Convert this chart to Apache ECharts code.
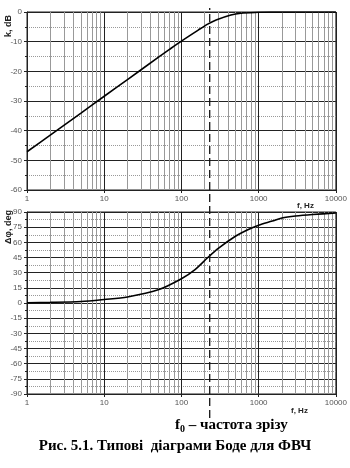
<!DOCTYPE html>
<html><head><meta charset="utf-8">
<script src="https://cdn.jsdelivr.net/npm/echarts@6/dist/echarts.min.js"></script>
<style>html,body{margin:0;padding:0;background:#fff}#c{width:350px;height:468px}</style>
</head><body><div id="c"></div>
<script>
// ---- data ----
const freqMag = [1, 2, 5, 10, 20, 50, 70, 100, 165, 222, 281, 437, 588, 1000, 1425, 2000, 5000, 10000];
const magDb   = [-47.1, -41.5, -34.1, -28.4, -22.8, -15.3, -12.6, -9.8, -6.1, -4.0, -2.7, -1.0, -0.4, -0.1, 0, 0, 0, 0];
const freqPh  = [1, 2, 5, 10, 20, 50, 100, 150, 220, 300, 500, 700, 1000, 1500, 2000, 3000, 5000, 10000];
const phaseDeg= [0.3, 0.6, 1.5, 3.5, 6, 13, 24, 33, 45, 54, 66, 72, 77, 81, 84, 86, 87.5, 89];
const f0 = 220;
const xTickLabels = ['1', '10', '100', '1000', '10000'];
const decades = [1, 10, 100, 1000];
const subMult = [2, 3, 4, 5, 6, 7, 8, 9];

const minorX = [];
decades.forEach(d => subMult.forEach(m => minorX.push({xAxis: d * m})));

const lblStyle = {color: '#555', fontSize: 8, fontFamily: 'Arial, Liberation Sans'};
function xAxisCfg(gi, show) {
  return {
    type: 'log', logBase: 10, min: 1, max: 10000, gridIndex: gi, show: show !== false,
    axisLine: {show: true, onZero: false, lineStyle: {color: '#222', width: 1}},
    axisTick: {show: true, inside: false, length: 3, lineStyle: {color: '#222'}},
    axisLabel: {show: true, margin: 5, ...lblStyle,
      formatter: v => { const s = String(Math.round(v)); return xTickLabels.includes(s) ? s : ''; }},
    splitLine: {show: true, lineStyle: {color: '#222', width: 1}},
    minorTick: {show: false}, minorSplitLine: {show: false}
  };
}
function yAxisCfg(gi, min, max, interval) {
  return {
    type: 'value', gridIndex: gi, min, max, interval,
    axisLine: {show: true, lineStyle: {color: '#222', width: 1}},
    axisTick: {show: true, length: 3, lineStyle: {color: '#222'}},
    axisLabel: {margin: 5, ...lblStyle},
    splitLine: {show: true, lineStyle: {color: '#222', width: 1}},
    minorTick: {show: true, splitNumber: 2, length: 2, lineStyle: {color: '#222'}},
    minorSplitLine: {show: true, lineStyle: {color: '#999', width: 1, type: [1, 1]}}
  };
}
const minorMark = {
  silent: true, symbol: 'none', label: {show: false},
  lineStyle: {color: '#999', width: 1, type: 'solid'},
  data: minorX, animation: false
};
const nameStyle = {fontSize: 9, fontWeight: 'bold', fill: '#222', fontFamily: 'Arial, Liberation Sans'};

const chart = echarts.init(document.getElementById('c'), null, {renderer: 'canvas'});
chart.setOption({
  animation: false,
  backgroundColor: '#fff',
  grid: [
    {left: 27, right: 11, top: 12, height: 178, show: true, borderColor: '#222', borderWidth: 1},
    {left: 27, right: 11, top: 212, height: 182, show: true, borderColor: '#222', borderWidth: 1},
    {left: 27, right: 11, top: 8, bottom: 50}
  ],
  xAxis: [xAxisCfg(0), xAxisCfg(1),
    {type: 'log', logBase: 10, min: 1, max: 10000, gridIndex: 2, show: false}],
  yAxis: [
    yAxisCfg(0, -60, 0, 10),
    yAxisCfg(1, -90, 90, 15),
    {type: 'value', gridIndex: 2, min: 0, max: 1, show: false}
  ],
  title: [
    {text: 'f, Hz', left: 297, top: 202, padding: 0, textStyle: {fontSize: 8, fontWeight: 'bold', color: '#222', fontFamily: 'Arial, Liberation Sans'}},
    {text: 'f, Hz', left: 291, top: 407, padding: 0, textStyle: {fontSize: 8, fontWeight: 'bold', color: '#222', fontFamily: 'Arial, Liberation Sans'}},
    {text: '{a|f}{s|0}{a| – частота зрізу}', left: 175, top: 416, padding: 0,
      textStyle: {rich: {
        a: {fontSize: 15, fontWeight: 'bold', fontFamily: 'Liberation Serif', color: '#000'},
        s: {fontSize: 10, fontWeight: 'bold', fontFamily: 'Liberation Serif', color: '#000', padding: [8, 0, 0, 0]}
      }}},
    {text: 'Рис. 5.1. Типові  діаграми Боде для ФВЧ', left: 'center', top: 439, padding: 0,
      textStyle: {fontSize: 15, fontWeight: 'bold', fontFamily: 'Liberation Serif', color: '#000'}}
  ],
  graphic: [
    {type: 'text', x: 4, y: 37, rotation: Math.PI / 2, style: {text: 'k, dB', ...nameStyle}},
    {type: 'text', x: 4, y: 244, rotation: Math.PI / 2, style: {text: 'Δφ, deg', ...nameStyle}}
  ],
  series: [
    {type: 'line', xAxisIndex: 0, yAxisIndex: 0, showSymbol: false, smooth: 0.3,
      lineStyle: {color: '#000', width: 1.6}, data: freqMag.map((f, i) => [f, magDb[i]]),
      markLine: minorMark, z: 5},
    {type: 'line', xAxisIndex: 1, yAxisIndex: 1, showSymbol: false, smooth: 0.3,
      lineStyle: {color: '#000', width: 1.6}, data: freqPh.map((f, i) => [f, phaseDeg[i]]),
      markLine: minorMark, z: 5},
    {type: 'line', xAxisIndex: 2, yAxisIndex: 2, showSymbol: false, silent: true,
      lineStyle: {color: '#111', width: 1.3, type: [8, 4]}, data: [[f0, 0], [f0, 1]], z: 6}
  ]
});
</script></body></html>
